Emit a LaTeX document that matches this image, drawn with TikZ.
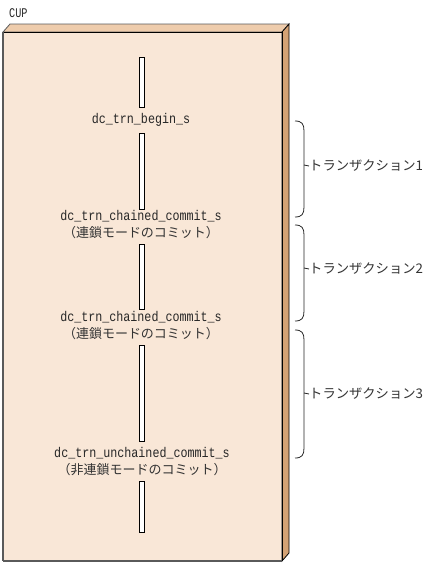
\documentclass[tikz,border=0pt]{standalone}
\usepackage{fontspec}
\usepackage{graphicx}
\newfontfamily\jpfont{Noto Sans CJK JP}
\newfontfamily\monofont{Liberation Mono}
\definecolor{frontc}{RGB}{249,231,215}
\definecolor{topc}{RGB}{238,204,172}
\definecolor{sidec}{RGB}{212,162,116}
\definecolor{edgec}{RGB}{90,90,90}
\newcommand{\tallt}[1]{\scalebox{1}[1.2]{#1}}
\tikzset{
  barbox/.style={draw=black, fill=white, line width=0.8pt, minimum width=5pt, inner sep=0pt},
  apitext/.style={font=\monofont\fontsize{11.7}{12}\selectfont, inner sep=0pt, text=black!85},
  jptext/.style={font=\jpfont\fontsize{13}{14}\selectfont, inner sep=0pt, text=black!80},
  trtext/.style={font=\jpfont\fontsize{13.3}{14}\selectfont, inner sep=0pt, anchor=west, text=black!80},
  bracec/.style={draw=black!85, line width=0.8pt}
}
\begin{document}
\begin{tikzpicture}[x=1pt,y=-1pt]
\useasboundingbox (0,0) rectangle (436,565);
% box
\fill[frontc] (3,32) rectangle (282,561);
\filldraw[fill=topc, draw=edgec, line width=0.8pt] (3,32) -- (10,24) -- (289,24) -- (282,32) -- cycle;
\filldraw[fill=sidec, draw=black, line width=0.8pt] (282,32) -- (289,24) -- (289,553) -- (282,561) -- cycle;
\draw[black, line width=1pt] (3,32) -- (282,32);
\draw[edgec, line width=1.4pt] (3,32) -- (3,561);
\draw[edgec, line width=2pt] (3,561) -- (282,561);
\draw[black, line width=0.8pt] (282,32) -- (282,561);
% label
\node[font=\monofont\fontsize{10.2}{12}\selectfont, anchor=west, inner sep=0pt, text=black!85] (cup) at (9,13) {\scalebox{1}[1.3]{CUP}};
% bars
\node[barbox, minimum height=50pt] (b1) at (142,82) {};
\node[barbox, minimum height=76pt] (b2) at (142,171) {};
\node[barbox, minimum height=65pt] (b3) at (142,276.5) {};
\node[barbox, minimum height=96pt] (b4) at (142,393) {};
\node[barbox, minimum height=51pt] (b5) at (142,506.5) {};
% texts
\node[apitext] (t1) at (141,120) {\tallt{dc\_trn\_begin\_s}};
\node[apitext] (t2) at (141,216.5) {\tallt{dc\_trn\_chained\_commit\_s}};
\node[jptext] (p2) at (141,233) {（連鎖モードのコミット）};
\node[apitext] (t3) at (141,317.5) {\tallt{dc\_trn\_chained\_commit\_s}};
\node[jptext] (p3) at (141,334) {（連鎖モードのコミット）};
\node[apitext] (t4) at (142,453.5) {\tallt{dc\_trn\_unchained\_commit\_s}};
\node[jptext] (p4) at (142,470) {（非連鎖モードのコミット）};
% braces
\coordinate (r1t) at (295,121); \coordinate (r1b) at (295,217); \coordinate (r1m) at (304,165);
\coordinate (r2t) at (295,225); \coordinate (r2b) at (295,321); \coordinate (r2m) at (304,268);
\coordinate (r3t) at (295,330); \coordinate (r3b) at (295,458); \coordinate (r3m) at (304,393);
\node[trtext] (tr1) at (309,166) {トランザクション1};
\node[trtext] (tr2) at (309,269) {トランザクション2};
\node[trtext] (tr3) at (309,394) {トランザクション3};
\draw[bracec] (r1t) .. controls (302,121) and (304,124) .. (304,131) -- (304,207) .. controls (304,214) and (302,217) .. (r1b);
\draw[bracec] (r1m) -- (tr1.west);
\draw[bracec] (r2t) .. controls (302,225) and (304,228) .. (304,235) -- (304,311) .. controls (304,318) and (302,321) .. (r2b);
\draw[bracec] (r2m) -- (tr2.west);
\draw[bracec] (r3t) .. controls (302,330) and (304,333) .. (304,340) -- (304,448) .. controls (304,455) and (302,458) .. (r3b);
\draw[bracec] (r3m) -- (tr3.west);
\end{tikzpicture}
\end{document}
